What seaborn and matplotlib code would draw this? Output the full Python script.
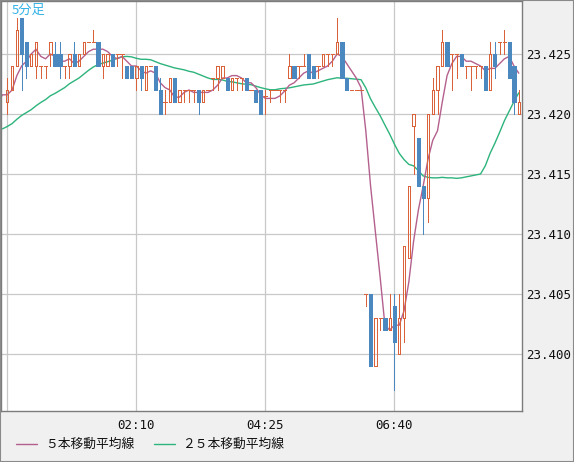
import numpy as np
import pandas as pd
import matplotlib
matplotlib.use("Agg")
import matplotlib.pyplot as plt
import seaborn as sns
from matplotlib.lines import Line2D
from matplotlib.patches import Rectangle

# ---------------- data (5-minute candles) ----------------
open_ = [23.421, 23.422, 23.424, 23.428, 23.426, 23.424, 23.424, 23.424, 23.424, 23.425,
         23.425, 23.425, 23.424, 23.424, 23.425, 23.424, 23.425, 23.426, 23.426, 23.426,
         23.424, 23.424, 23.425, 23.425, 23.425, 23.424, 23.424, 23.423, 23.424, 23.422,
         23.424, 23.424, 23.422, 23.421, 23.421, 23.423, 23.421, 23.422, 23.422, 23.422,
         23.422, 23.421, 23.422, 23.423, 23.423, 23.423, 23.423, 23.422, 23.423, 23.423,
         23.423, 23.422, 23.422, 23.422, 23.4215, 23.422, 23.422, 23.422, 23.422, 23.423,
         23.424, 23.424, 23.424, 23.425, 23.424, 23.424, 23.424, 23.425, 23.425, 23.425,
         23.426, 23.423, 23.422, 23.422, 23.422, 23.405, 23.405, 23.399, 23.403, 23.403,
         23.402, 23.404, 23.400, 23.403, 23.408, 23.419, 23.418, 23.414, 23.413, 23.420,
         23.422, 23.424, 23.426, 23.425, 23.425, 23.425, 23.424, 23.424, 23.424, 23.424,
         23.424, 23.422, 23.425, 23.426, 23.426, 23.426, 23.424, 23.420]
high = [23.423, 23.424, 23.428, 23.428, 23.426, 23.425, 23.426, 23.424, 23.424, 23.426,
        23.426, 23.426, 23.424, 23.425, 23.426, 23.425, 23.426, 23.426, 23.427, 23.426,
        23.425, 23.425, 23.425, 23.425, 23.425, 23.424, 23.424, 23.424, 23.424, 23.424,
        23.424, 23.424, 23.423, 23.422, 23.423, 23.423, 23.422, 23.422, 23.422, 23.422,
        23.422, 23.422, 23.422, 23.423, 23.424, 23.424, 23.423, 23.423, 23.423, 23.423,
        23.423, 23.422, 23.422, 23.422, 23.422, 23.422, 23.422, 23.422, 23.422, 23.425,
        23.424, 23.424, 23.425, 23.425, 23.424, 23.424, 23.425, 23.425, 23.425, 23.428,
        23.426, 23.423, 23.422, 23.422, 23.422, 23.405, 23.405, 23.403, 23.403, 23.403,
        23.405, 23.405, 23.405, 23.409, 23.414, 23.420, 23.418, 23.414, 23.420, 23.423,
        23.424, 23.427, 23.426, 23.425, 23.425, 23.425, 23.424, 23.424, 23.424, 23.424,
        23.424, 23.426, 23.426, 23.426, 23.427, 23.426, 23.424, 23.422]
low = [23.420, 23.422, 23.424, 23.422, 23.423, 23.424, 23.423, 23.423, 23.423, 23.424,
       23.424, 23.423, 23.423, 23.423, 23.424, 23.424, 23.425, 23.426, 23.426, 23.424,
       23.423, 23.424, 23.424, 23.424, 23.423, 23.423, 23.423, 23.422, 23.422, 23.422,
       23.424, 23.422, 23.420, 23.420, 23.421, 23.421, 23.421, 23.421, 23.421, 23.421,
       23.420, 23.421, 23.422, 23.422, 23.422, 23.423, 23.422, 23.422, 23.422, 23.422,
       23.422, 23.422, 23.421, 23.420, 23.420, 23.421, 23.422, 23.421, 23.421, 23.423,
       23.423, 23.423, 23.424, 23.423, 23.423, 23.423, 23.424, 23.424, 23.424, 23.425,
       23.423, 23.422, 23.422, 23.422, 23.422, 23.404, 23.399, 23.399, 23.402, 23.402,
       23.402, 23.397, 23.400, 23.401, 23.408, 23.415, 23.414, 23.410, 23.411, 23.420,
       23.420, 23.424, 23.424, 23.422, 23.423, 23.424, 23.423, 23.422, 23.423, 23.423,
       23.422, 23.422, 23.423, 23.425, 23.425, 23.423, 23.420, 23.420]
close = [23.422, 23.424, 23.427, 23.425, 23.424, 23.425, 23.426, 23.424, 23.424, 23.426,
         23.424, 23.424, 23.424, 23.425, 23.424, 23.425, 23.426, 23.426, 23.426, 23.424,
         23.425, 23.425, 23.424, 23.425, 23.425, 23.423, 23.423, 23.424, 23.423, 23.424,
         23.424, 23.422, 23.420, 23.421, 23.423, 23.421, 23.422, 23.422, 23.422, 23.422,
         23.421, 23.422, 23.422, 23.423, 23.424, 23.424, 23.422, 23.423, 23.423, 23.423,
         23.422, 23.422, 23.421, 23.420, 23.4215, 23.422, 23.422, 23.422, 23.422, 23.424,
         23.423, 23.424, 23.424, 23.423, 23.423, 23.424, 23.425, 23.425, 23.425, 23.426,
         23.423, 23.422, 23.422, 23.422, 23.422, 23.405, 23.399, 23.403, 23.403, 23.402,
         23.403, 23.401, 23.403, 23.409, 23.414, 23.420, 23.414, 23.413, 23.420, 23.422,
         23.424, 23.426, 23.424, 23.425, 23.425, 23.424, 23.424, 23.424, 23.424, 23.424,
         23.422, 23.425, 23.424, 23.426, 23.426, 23.423, 23.421, 23.421]
# closes of the bars just before the visible window (feed the moving averages)
prior_close = [23.417, 23.418, 23.418, 23.417, 23.418, 23.419, 23.418, 23.417, 23.418,
               23.418, 23.419, 23.418, 23.418, 23.417, 23.418, 23.419, 23.418, 23.418,
               23.419, 23.419, 23.422, 23.422, 23.421, 23.421, 23.422]

start_time = "23:55"
tick_labels = ["02:10", "04:25", "06:40"]
title_text = "5分足"
legend_labels = ["５本移動平均線", "２５本移動平均線"]

# ---------------- styling ----------------
ORANGE = "#d9623a"
BLUE = "#4a88bf"
PINK = "#b4608e"
GREEN = "#2db47c"
PANEL = "#f0f0f0"
GRID = "#c8c8c8"
SPINE = "#7c7c7c"

sns.set_theme(style="white")
plt.rcParams["font.family"] = ["DejaVu Sans Mono", "Noto Sans CJK JP"]

W, H = 574, 462
fig = plt.figure(figsize=(W / 100, H / 100), dpi=100, facecolor=PANEL)
ax_l, ax_r, ax_t, ax_b = 1, 522, 1, 411
ax = fig.add_axes([ax_l / W, (H - ax_b) / H, (ax_r - ax_l) / W, (ax_b - ax_t) / H])
ax.set_facecolor("white")

df = pd.DataFrame({"open": open_, "high": high, "low": low, "close": close})
df["x"] = np.arange(len(df))
times = pd.date_range("2000-01-01 " + start_time, periods=len(df), freq="5min").strftime("%H:%M").tolist()
df["time"] = times

# moving averages through pandas rolling, over prior + visible closes
all_close = pd.Series(prior_close + close, index=np.arange(-len(prior_close), len(close)))
ma = pd.DataFrame({"x": all_close.index,
                   "ma5": all_close.rolling(5).mean(),
                   "ma25": all_close.rolling(25).mean()})
ma = ma[ma.x >= -2]

sns.lineplot(data=ma, x="x", y="ma25", ax=ax, color=GREEN, lw=1.0, zorder=1)
sns.lineplot(data=ma, x="x", y="ma5", ax=ax, color=PINK, lw=1.0, zorder=1)

eps = 1e-9
up = df.close > df.open + eps
down = df.close < df.open - eps
doji = ~(up | down)
top = df[["open", "close"]].max(axis=1)
bot = df[["open", "close"]].min(axis=1)
wick_col = np.where(down, BLUE, ORANGE)

ax.vlines(df.x, top, df.high, colors=wick_col, lw=0.72, zorder=2, antialiased=False)
ax.vlines(df.x, df.low, bot, colors=wick_col, lw=0.72, zorder=2, antialiased=False)
bw_up = 0.5
bw_dn = 0.68
ax.bar(df.x[up], (df.close - df.open)[up], bottom=df.open[up], width=bw_up,
       facecolor="none", edgecolor=ORANGE, lw=0.72, zorder=3, antialiased=False)
ax.bar(df.x[down], (df.open - df.close)[down], bottom=df.close[down], width=bw_dn,
       facecolor=BLUE, edgecolor=BLUE, lw=0.4, zorder=3, antialiased=False)
ax.hlines(df.open[doji], df.x[doji] - bw_dn / 2, df.x[doji] + bw_dn / 2, colors=ORANGE,
          lw=0.72, zorder=3, antialiased=False)

# scales
px = 4.78   # pixels per bar
x0 = 7.3    # pixel of first bar
ax.set_xlim((ax_l - x0) / px, (ax_r - x0) / px)
ppv = 12000.0
y425 = 54
ax.set_ylim(23.425 - (ax_b - y425) / ppv, 23.425 + (y425 - ax_t) / ppv)

tick_pos = [times.index(t) for t in tick_labels]
ax.set_xticks(tick_pos)
ax.set_xticklabels(tick_labels)
ax.set_xticks([tick_pos[0] - (tick_pos[1] - tick_pos[0])], minor=True)
ax.set_yticks([23.400, 23.405, 23.410, 23.415, 23.420, 23.425])
ax.set_yticklabels([f"{v:.3f}" for v in [23.400, 23.405, 23.410, 23.415, 23.420, 23.425]])
ax.yaxis.tick_right()
ax.tick_params(axis="both", which="both", length=0, labelsize=9, colors="#111111")
ax.tick_params(axis="x", pad=6)
ax.tick_params(axis="y", pad=3)
ax.grid(True, which="both", color=GRID, lw=0.9, zorder=0)
ax.set_axisbelow(True)
ax.set_xlabel("")
ax.set_ylabel("")
for s in ax.spines.values():
    s.set_visible(True)
    s.set_color(SPINE)
    s.set_linewidth(1.0)

# title label
fig.text(12 / W, 1 - 10 / H, title_text, color="#35b2e6", fontsize=9.5,
         family=["Noto Sans CJK JP"], va="center", ha="left")

# legend
ly = 1 - 444 / H
for (xa, xb, xt, col, lab) in [(16, 37, 45, PINK, legend_labels[0]),
                                (154, 175, 182, GREEN, legend_labels[1])]:
    fig.add_artist(Line2D([xa / W, xb / W], [ly, ly], color=col, lw=1.0,
                          transform=fig.transFigure))
    fig.text(xt / W, ly, lab, fontsize=9.2, family=["Noto Sans CJK JP"],
             va="center", ha="left", color="#111111")

# outer frame
fig.add_artist(Rectangle((0, 0), 1, 1, transform=fig.transFigure, fill=False,
                         edgecolor="#8a8a8a", lw=1.5))

fig.savefig("out.png", dpi=100, facecolor=PANEL)
